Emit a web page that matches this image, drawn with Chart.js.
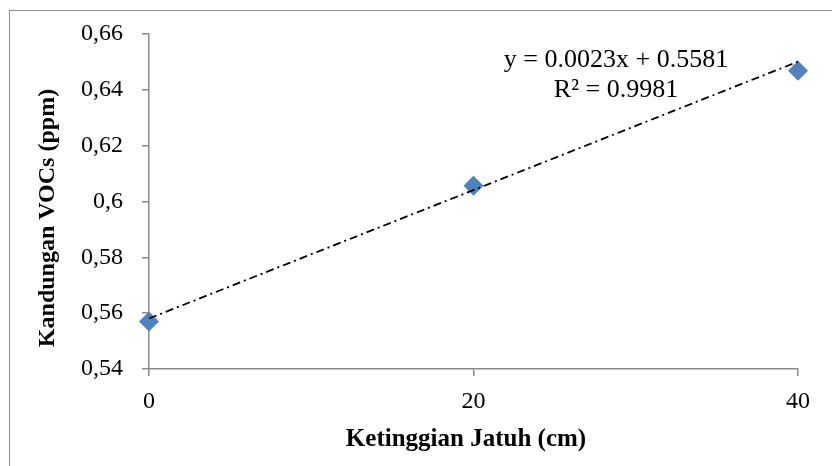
<!DOCTYPE html>
<html>
<head>
<meta charset="utf-8">
<script src="https://cdn.jsdelivr.net/npm/chart.js@4"></script>
<style>
  html, body { margin: 0; padding: 0; background: #fff; }
  #wrap { position: relative; width: 832px; height: 466px; }
</style>
</head>
<body>
<div id="wrap"><canvas id="myChart1"></canvas></div>
<script>
// data
const heights = [0, 20, 40];
const vocs = [0.557, 0.6056, 0.6468];
// trendline ends (x = 0 and x = 40)
const trendX = [0, 40];
const trendY = [0.5581, 0.6501];
const yTicks = [0.54, 0.56, 0.58, 0.6, 0.62, 0.64, 0.66];
const yTickLabels = ["0,54", "0,56", "0,58", "0,6", "0,62", "0,64", "0,66"];
const xTicks = [0, 20, 40];
const xTickLabels = ["0", "20", "40"];
const equationLines = ["y = 0.0023x + 0.5581", "R\u00b2 = 0.9981"];
const xTitle = "Ketinggian Jatuh (cm)";
const yTitle = "Kandungan VOCs (ppm)";

const serif = "'Liberation Serif', 'Times New Roman', serif";
const axisGray = "#8a8a8a";

const frame = {
  id: "frame",
  beforeDraw(chart) {
    const c = chart.ctx;
    c.save();
    c.fillStyle = "#fff";
    c.fillRect(0, 0, chart.width, chart.height);
    c.strokeStyle = "#8c8c8c";
    c.lineWidth = 1;
    c.strokeRect(9.5, 10.5, 900, 500);
    c.restore();
  },
  afterDraw(chart) {
    const c = chart.ctx;
    c.save();
    c.fillStyle = "#000";
    c.textAlign = "center";
    c.textBaseline = "alphabetic";
    c.font = "26px " + serif;
    c.fillText(equationLines[0], 616, 67);
    c.fillText(equationLines[1], 616, 97);

    // axis titles
    c.font = "bold 25px " + serif;
    c.fillText(xTitle, 466, 446);
    c.translate(48, 218);
    c.rotate(-Math.PI / 2);
    c.textBaseline = "middle";
    c.font = "bold 24px " + serif;
    c.fillText(yTitle, 0, 0);
    c.restore();
  },
};

const ctx = document.getElementById("myChart1");

new Chart(ctx, {
  type: "scatter",
  data: {
    datasets: [
      {
        label: "VOCs",
        data: heights.map((h, i) => ({ x: h, y: vocs[i] })),
        pointStyle: "rectRot",
        pointRadius: 10,
        pointBackgroundColor: "#4f81bd",
        pointBorderColor: "#4f81bd",
        pointBorderWidth: 0,
        clip: false,
        order: 1,
      },
      {
        label: "Linear",
        type: "line",
        data: trendX.map((h, i) => ({ x: h, y: trendY[i] })),
        borderColor: "#000",
        borderWidth: 1.8,
        borderDash: [8, 4, 2, 4],
        pointRadius: 0,
        fill: false,
        clip: false,
        order: 0,
      },
    ],
  },
  plugins: [frame],
  options: {
    responsive: true,
    maintainAspectRatio: false,
    animation: false,
    layout: { padding: { top: 34, right: 34, left: 0, bottom: 0 } },
    plugins: {
      legend: { display: false },
      tooltip: { enabled: false },
    },
    scales: {
      x: {
        type: "linear",
        min: 0,
        max: 40,
        afterBuildTicks: (s) => { s.ticks = xTicks.map((v) => ({ value: v })); },
        afterFit: (s) => { s.height = 97; },
        ticks: {
          callback: (v) => xTickLabels[xTicks.indexOf(v)],
          color: "#000",
          font: { family: serif, size: 24 },
          padding: 11,
          maxRotation: 0,
        },
        grid: { drawOnChartArea: false, drawTicks: true, tickLength: 7, color: axisGray, lineWidth: 1.5 },
        border: { color: axisGray, width: 1.5 },
      },
      y: {
        min: 0.54,
        max: 0.66,
        afterBuildTicks: (s) => { s.ticks = yTicks.map((v) => ({ value: v })); },
        afterFit: (s) => { s.width = 149; },
        ticks: {
          callback: (v) => yTickLabels[yTicks.findIndex((t) => Math.abs(t - v) < 1e-9)],
          color: "#000",
          font: { family: serif, size: 24 },
          padding: 19,
        },
        grid: { drawOnChartArea: false, drawTicks: true, tickLength: 7, color: axisGray, lineWidth: 1.5 },
        border: { color: axisGray, width: 1.5 },
      },
    },
  },
});
</script>
</body>
</html>
